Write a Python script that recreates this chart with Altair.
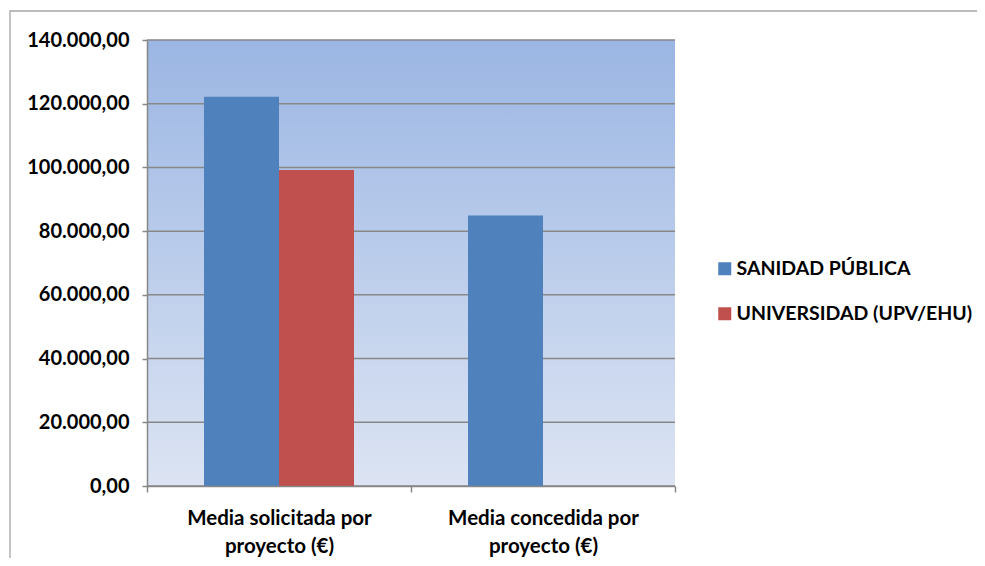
import altair as alt
import pandas as pd

categories = ["Media solicitada por\nproyecto (€)", "Media concedida por\nproyecto (€)"]
series = ["SANIDAD PÚBLICA", "UNIVERSIDAD (UPV/EHU)"]
sanidad = [122200, 84900]
universidad = [99200, None]
y_ticks = [0, 20000, 40000, 60000, 80000, 100000, 120000, 140000]
colors = ["#4f81bd", "#c0504d"]

rows = []
for c, s, u in zip(categories, sanidad, universidad):
    rows.append({"cat": c, "serie": series[0], "valor": s})
    if u is not None:
        rows.append({"cat": c, "serie": series[1], "valor": u})
df = pd.DataFrame(rows)

W, H = 528, 446
FONT = "Lato"
GRID = "#878787"

label_fmt = "replace(replace(replace(format(datum.value, ',.2f'), ',', '_'), '.', ','), '_', '.')"

y_axis = alt.Axis(values=y_ticks, grid=False, domain=True, domainColor=GRID, domainWidth=1.5,
                  ticks=True, tickColor=GRID, tickSize=5, tickWidth=1.5,
                  labelFont=FONT, labelFontSize=20, labelFontWeight="bold", labelColor="#000000",
                  labelPadding=13, labelExpr=label_fmt, title=None, zindex=1)
y_scale = alt.Scale(domain=[0, 140000], nice=False, zero=True)

x_axis = alt.Axis(title=None, labelAngle=0, labelExpr="split(datum.label, '\\n')",
                  tickBand="extent", ticks=True, tickSize=6, tickColor=GRID, tickWidth=1.5,
                  domainColor=GRID, domainWidth=1.5, labelFont=FONT, labelFontSize=20.5,
                  labelFontWeight="bold", labelColor="#000000", labelLineHeight=28,
                  labelPadding=16, labelLimit=400, zindex=1)

gradient = alt.LinearGradient(
    gradient="linear",
    stops=[alt.GradientStop(color="#9bb6e3", offset=0),
           alt.GradientStop(color="#dce4f3", offset=1)],
    x1=0, x2=0, y1=0, y2=1,
)

background = alt.Chart(pd.DataFrame({"bg": [0]})).mark_rect(fill=gradient).encode(
    x=alt.value(0), x2=alt.value(W), y=alt.value(0), y2=alt.value(H)
)

border = alt.Chart(pd.DataFrame({"b": [0]})).mark_rect(
    fillOpacity=0, stroke="#a6a6a6", strokeWidth=1.3, clip=False
).encode(
    x=alt.value(-137), x2=alt.value(1200), y=alt.value(-29), y2=alt.value(1200)
)

grid = alt.Chart(pd.DataFrame({"t": y_ticks})).mark_rule(color=GRID, strokeWidth=1.5).encode(
    y=alt.Y("t:Q", scale=y_scale, axis=y_axis)
)

bars = alt.Chart(df).mark_bar().encode(
    x=alt.X("cat:N", sort=categories,
            scale=alt.Scale(domain=categories, paddingInner=0, paddingOuter=0),
            axis=x_axis),
    xOffset=alt.XOffset("serie:N", sort=series,
                        scale=alt.Scale(domain=series, paddingInner=0, paddingOuter=0.76)),
    y=alt.Y("valor:Q", scale=y_scale, axis=y_axis),
    color=alt.Color("serie:N", sort=series,
                    scale=alt.Scale(domain=series, range=colors),
                    legend=alt.Legend(title=None, orient="none", legendX=568, legendY=219,
                                      symbolType="square", symbolSize=169, symbolStrokeWidth=0,
                                      labelFont=FONT, labelFontSize=19.5, labelFontWeight="bold",
                                      labelColor="#000000", rowPadding=24, labelOffset=2,
                                      labelLimit=400)),
)

chart = alt.layer(border, background, grid, bars).properties(
    width=W, height=H,
    padding={"left": 139, "top": 32, "right": 302, "bottom": 72},
    autosize=alt.AutoSizeParams(type="none"),
).configure_view(strokeWidth=0)

chart.save("out.html", embed_options={"renderer": "svg", "actions": False})
